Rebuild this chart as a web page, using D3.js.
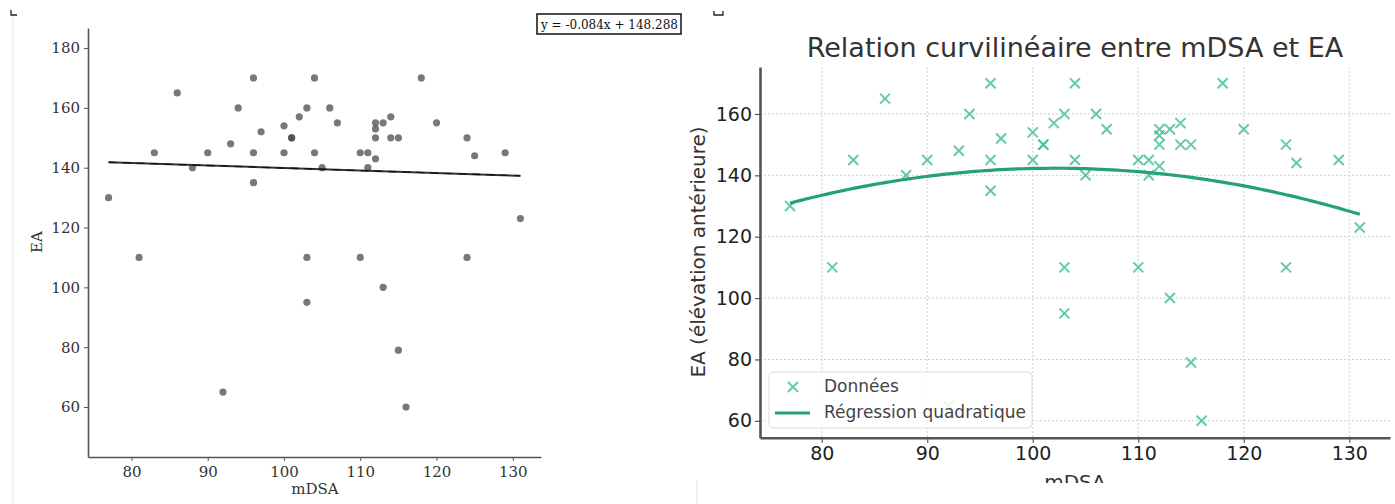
<!DOCTYPE html>
<html>
<head>
<meta charset="utf-8">
<script src="https://cdn.jsdelivr.net/npm/d3@7"></script>
<style>
  html, body { margin: 0; padding: 0; background: #fff; }
  svg { display: block; }
</style>
</head>
<body>
<svg id="chart" width="1395" height="504"></svg>
<script>
// values (same 48 patients in both panels)
const mdsa = [77, 81, 83, 86, 88, 90, 92, 93, 94, 96, 96, 96, 97, 100, 100, 101, 101, 102,
  103, 103, 103, 104, 104, 105, 106, 107, 110, 110, 111, 111, 112, 112, 112, 112, 113, 113,
  114, 114, 115, 115, 116, 118, 120, 124, 124, 125, 129, 131]
const ea = [130, 110, 145, 165, 140, 145, 65, 148, 160, 170, 145, 135, 152, 154, 145, 150, 150, 157,
  160, 110, 95, 170, 145, 140, 160, 155, 145, 110, 145, 140, 155, 153, 150, 143, 155, 100,
  157, 150, 150, 79, 60, 170, 155, 150, 110, 144, 145, 123]

const linSlope = -0.084
const linIntercept = 148.288
const eqLabel = "y = -0.084x + 148.288"

const xTicks = [80, 90, 100, 110, 120, 130]
const yTicksLeft = [60, 80, 100, 120, 140, 160, 180]
const yTicksRight = [60, 80, 100, 120, 140, 160]

const titleRight = "Relation curvilinéaire entre mDSA et EA"
const xLabel = "mDSA"
const yLabelLeft = "EA"
const yLabelRight = "EA (élévation antérieure)"
const legendLabels = ["Données", "Régression quadratique"]

const points = mdsa.map((x, i) => ({ x: x, y: ea[i] }))

const svg = d3.select("#chart")

// ---------- left panel: linear fit ----------
const xL = d3.scaleLinear().domain([74.3, 133.7]).range([88, 541])
const yL = d3.scaleLinear().domain([43.3, 186.7]).range([457, 28])
const serif = "'DejaVu Serif', serif"

// faint page border seen at the left
svg.append("line").attr("x1", 13).attr("x2", 13).attr("y1", 14).attr("y2", 504)
  .attr("stroke", "#eee").attr("stroke-width", 1.5)
// tiny corner marks
svg.append("path").attr("d", "M11,10 L11,15 L17,15").attr("fill", "none").attr("stroke", "#222").attr("stroke-width", 1.3)
svg.append("path").attr("d", "M714,11 L714,15 L723,15 L723,11").attr("fill", "none").attr("stroke", "#222").attr("stroke-width", 1.3)

const left = svg.append("g")

const axBL = left.append("g").attr("transform", "translate(0,457)")
  .call(d3.axisBottom(xL).tickValues(xTicks).tickSize(4).tickSizeOuter(0).tickPadding(5))
const axLL = left.append("g").attr("transform", "translate(88,0)")
  .call(d3.axisLeft(yL).tickValues(yTicksLeft).tickSize(4).tickSizeOuter(0).tickPadding(4))
;[axBL, axLL].forEach(a => {
  a.select(".domain").attr("stroke", "#555").attr("stroke-width", 1.6)
  a.selectAll(".tick line").attr("stroke", "#555").attr("stroke-width", 1)
  a.selectAll(".tick text").attr("font-family", serif).attr("font-size", 15).attr("fill", "#333")
})

left.selectAll("circle.pt").data(points).join("circle")
  .attr("class", "pt")
  .attr("cx", d => xL(d.x)).attr("cy", d => yL(d.y)).attr("r", 3.6)
  .attr("fill", "#444").attr("fill-opacity", 0.72)

const xmin = d3.min(mdsa), xmax = d3.max(mdsa)
const linLine = d3.line().x(d => xL(d)).y(d => yL(linSlope * d + linIntercept))
left.append("path").attr("d", linLine([xmin, xmax]))
  .attr("fill", "none").attr("stroke", "#333").attr("stroke-width", 2)
left.append("path").attr("d", linLine([xmin, xmax]))
  .attr("fill", "none").attr("stroke", "#111").attr("stroke-width", 1.3).attr("stroke-dasharray", "8,6")

left.append("text").attr("x", 315).attr("y", 494).attr("text-anchor", "middle")
  .attr("font-family", serif).attr("font-size", 15).attr("fill", "#333").text(xLabel)
left.append("text").attr("transform", "translate(42,242) rotate(-90)").attr("text-anchor", "middle")
  .attr("font-family", serif).attr("font-size", 15).attr("fill", "#333").text(yLabelLeft)

// equation box
left.append("rect").attr("x", 537).attr("y", 14).attr("width", 144).attr("height", 20)
  .attr("fill", "#fff").attr("stroke", "#111").attr("stroke-width", 1.5)
left.append("text").attr("x", 541).attr("y", 29)
  .attr("font-family", serif).attr("font-size", 12).attr("fill", "#111").text(eqLabel)

// ---------- right panel: quadratic fit ----------
const xR = d3.scaleLinear().domain([74.15, 133.86]).range([760, 1390])
const yR = d3.scaleLinear().domain([54.5, 175.3]).range([437.7, 67])
const sans = "'DejaVu Sans', sans-serif"
const ptColor = "#3fbd92"
const fitColor = "#26a07a"

// least squares fit y = a + b x + c x^2
function quadFit(xs, ys) {
  const S = [0, 0, 0, 0, 0], T = [0, 0, 0]
  xs.forEach((x, i) => {
    const u = x - 100
    for (let k = 0; k < 5; k++) S[k] += Math.pow(u, k)
    for (let k = 0; k < 3; k++) T[k] += ys[i] * Math.pow(u, k)
  })
  const M = [[S[0], S[1], S[2], T[0]], [S[1], S[2], S[3], T[1]], [S[2], S[3], S[4], T[2]]]
  for (let c = 0; c < 3; c++) {
    for (let r = c + 1; r < 3; r++) {
      const f = M[r][c] / M[c][c]
      for (let k = c; k < 4; k++) M[r][k] -= f * M[c][k]
    }
  }
  const s = [0, 0, 0]
  for (let r = 2; r >= 0; r--) {
    let v = M[r][3]
    for (let k = r + 1; k < 3; k++) v -= M[r][k] * s[k]
    s[r] = v / M[r][r]
  }
  return x => s[0] + s[1] * (x - 100) + s[2] * (x - 100) * (x - 100)
}
const quad = quadFit(mdsa, ea)

const right = svg.append("g")

// grid
right.append("g").selectAll("line").data(xTicks).join("line")
  .attr("x1", d => xR(d)).attr("x2", d => xR(d)).attr("y1", 67).attr("y2", 437.7)
  .attr("stroke", "#cfcfcf").attr("stroke-width", 1).attr("stroke-dasharray", "2,2")
right.append("g").selectAll("line").data(yTicksRight).join("line")
  .attr("x1", 760).attr("x2", 1390).attr("y1", d => yR(d)).attr("y2", d => yR(d))
  .attr("stroke", "#cfcfcf").attr("stroke-width", 1).attr("stroke-dasharray", "2,2")

const axBR = right.append("g").attr("transform", "translate(0,437.7)")
  .call(d3.axisBottom(xR).tickValues(xTicks).tickSize(5).tickSizeOuter(0).tickPadding(4))
const axLR = right.append("g").attr("transform", "translate(760,0)")
  .call(d3.axisLeft(yR).tickValues(yTicksRight).tickSize(5).tickSizeOuter(0).tickPadding(3))
;[axBR, axLR].forEach(a => {
  a.select(".domain").attr("stroke", "#555").attr("stroke-width", 2.6)
  a.selectAll(".tick line").attr("stroke", "#555").attr("stroke-width", 1.2)
  a.selectAll(".tick text").attr("font-family", sans).attr("font-size", 19).attr("fill", "#222")
})

// x markers
right.selectAll("path.mk").data(points).join("path")
  .attr("class", "mk")
  .attr("d", d => {
    const cx = xR(d.x), cy = yR(d.y), h = 5
    return `M${cx - h},${cy - h}L${cx + h},${cy + h}M${cx + h},${cy - h}L${cx - h},${cy + h}`
  })
  .attr("stroke", ptColor).attr("stroke-opacity", 0.8).attr("stroke-width", 2).attr("fill", "none")

const curveXs = d3.range(xmin, xmax + 0.001, 0.5)
right.append("path").datum(curveXs)
  .attr("d", d3.line().x(d => xR(d)).y(d => yR(quad(d))))
  .attr("fill", "none").attr("stroke", fitColor).attr("stroke-width", 3.2)

// legend
const lg = right.append("g").attr("transform", "translate(769,372)")
lg.append("rect").attr("width", 263).attr("height", 56).attr("rx", 4)
  .attr("fill", "#fff").attr("fill-opacity", 0.85).attr("stroke", "#ddd")
lg.append("path").attr("d", "M19,10L29,20M29,10L19,20")
  .attr("stroke", ptColor).attr("stroke-opacity", 0.8).attr("stroke-width", 2)
lg.append("line").attr("x1", 6).attr("x2", 41).attr("y1", 41).attr("y2", 41)
  .attr("stroke", fitColor).attr("stroke-width", 3.2)
lg.selectAll("text").data(legendLabels).join("text")
  .attr("x", 55).attr("y", (d, i) => 20 + i * 26)
  .attr("font-family", sans).attr("font-size", 17).attr("fill", "#444").text(d => d)

right.append("text").attr("x", 1075).attr("y", 57).attr("text-anchor", "middle")
  .attr("font-family", sans).attr("font-size", 27).attr("fill", "#333").text(titleRight)
right.append("text").attr("transform", "translate(705,252) rotate(-90)").attr("text-anchor", "middle")
  .attr("font-family", sans).attr("font-size", 20).attr("fill", "#333").text(yLabelRight)
right.append("text").attr("x", 1075).attr("y", 489).attr("text-anchor", "middle")
  .attr("font-family", sans).attr("font-size", 20).attr("fill", "#333").text(xLabel)

// the source image is cut off here
right.append("rect").attr("x", 697).attr("y", 483).attr("width", 698).attr("height", 21).attr("fill", "#fff")
svg.append("line").attr("x1", 697).attr("x2", 697).attr("y1", 480).attr("y2", 504)
  .attr("stroke", "#eee").attr("stroke-width", 1.5)
</script>
</body>
</html>
